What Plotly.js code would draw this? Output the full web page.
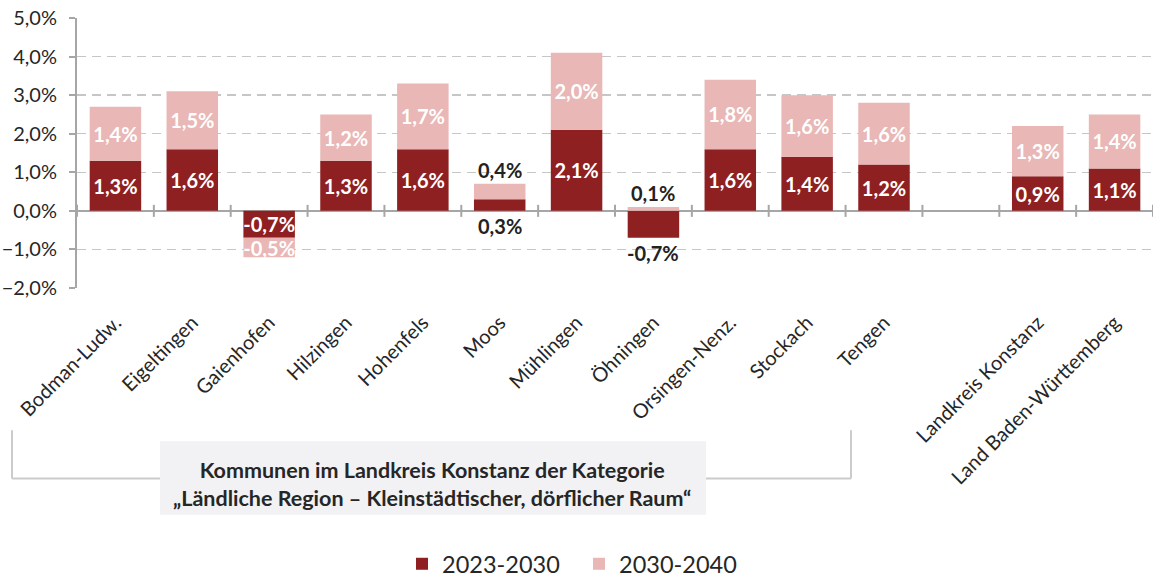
<!DOCTYPE html>
<html><head><meta charset="utf-8">
<script src="https://cdn.plot.ly/plotly-3.0.1.min.js"></script>
<style>html,body{margin:0;padding:0;background:#fff}#c{width:1153px;height:586px}</style>
</head><body><div id="c"></div>
<script>
const categories = ["Bodman-Ludw.","Eigeltingen","Gaienhofen","Hilzingen","Hohenfels","Moos","Mühlingen","Öhningen","Orsingen-Nenz.","Stockach","Tengen"," ","Landkreis Konstanz","Land Baden-Württemberg"];
const s2023_2030 = [1.3,1.6,-0.7,1.3,1.6,0.3,2.1,-0.7,1.6,1.4,1.2,null,0.9,1.1];
const s2030_2040 = [1.4,1.5,-0.5,1.2,1.7,0.4,2.0,0.1,1.8,1.6,1.6,null,1.3,1.4];
const outsideLabelCats = ["Moos","Öhningen"];
const seriesNames = ["2023-2030","2030-2040"];
const groupNote = "Kommunen im Landkreis Konstanz der Kategorie<br>„Ländliche Region – Kleinstädtischer, dörflicher Raum“";

const DARK = "#8f2022", LIGHT = "#e8b7b6";
const fmt = v => v == null ? "" : v.toFixed(1).replace(".", ",") + "%";
const FONT = "Lato, 'Open Sans', sans-serif";

function txt(arr){ return arr.map((v,i)=> outsideLabelCats.includes(categories[i]) ? "" : fmt(v)); }

const traces = [
  {type:"bar", name:seriesNames[0], x:categories, y:s2023_2030, marker:{color:DARK},
   text:txt(s2023_2030), textposition:"inside", insidetextanchor:"middle", constraintext:"none",
   textfont:{color:"#fff", size:20, family:FONT, weight:"bold"}, hoverinfo:"skip"},
  {type:"bar", name:seriesNames[1], x:categories, y:s2030_2040, marker:{color:LIGHT},
   text:txt(s2030_2040), textposition:"inside", insidetextanchor:"middle", constraintext:"none",
   textfont:{color:"#fff", size:20, family:FONT, weight:"bold"}, hoverinfo:"skip"}
];

const annotations = [];
outsideLabelCats.forEach(c=>{
  const i = categories.indexOf(c);
  const a = s2023_2030[i], b = s2030_2040[i];
  const posTop = (a>0? a:0) + (b>0? b:0);
  annotations.push({x:c, y:posTop, xref:"x", yref:"y", text:"<b>"+fmt(b)+"</b>", showarrow:false, yanchor:"bottom", yshift:0, font:{size:20, color:"#222", family:FONT}});
  const yb = a>0 ? 0 : a;
  annotations.push({x:c, y:yb, xref:"x", yref:"y", text:"<b>"+fmt(a)+"</b>", showarrow:false, yanchor:"top", yshift:-1, font:{size:20, color:"#222", family:FONT}});
});

const L=77, R=0, T=18, B=293, W=1153, H=586;
const pw=W-L-R, ph=H-T-B;
const px = x => (x-L)/pw;
const py = y => (H-B-y)/ph;

annotations.push({xref:"paper", yref:"paper", x:px(432), y:py(493), text:"<b>"+groupNote+"</b>", showarrow:false, align:"center", xanchor:"center", yanchor:"middle", font:{size:21.5, color:"#262626", family:FONT}});

const shapes = [];
for(let k=0;k<=categories.length;k++){
  shapes.push({type:"line", xref:"x", yref:"y", x0:k-0.5, x1:k-0.5, ysizemode:"pixel", yanchor:0, y0:-6, y1:6, line:{color:"#a6a6a6", width:2}});
}
const gray = {color:"#cbcbcb", width:2};
shapes.push({type:"line", xref:"paper", yref:"paper", x0:px(12), x1:px(12), y0:py(438), y1:py(487), line:gray});
shapes.push({type:"line", xref:"paper", yref:"paper", x0:px(12), x1:px(851), y0:py(487), y1:py(487), line:gray});
shapes.push({type:"line", xref:"paper", yref:"paper", x0:px(851), x1:px(851), y0:py(438), y1:py(487), line:gray});
shapes.push({type:"rect", xref:"paper", yref:"paper", x0:px(160), x1:px(706), y0:py(449), y1:py(524), fillcolor:"#f2f2f4", line:{width:0}});

const layout = {
  width:W, height:H, margin:{l:L, r:R, t:T, b:B},
  paper_bgcolor:"#fff", plot_bgcolor:"#fff",
  barmode:"relative", bargap:0.33,
  separators:",.",
  font:{family:FONT, color:"#262626"},
  showlegend:true,
  legend:{orientation:"h", x:px(402), xanchor:"left", y:py(575), yanchor:"middle", entrywidth:132, entrywidthmode:"pixels", itemwidth:30, font:{size:23.5, color:"#262626", family:FONT}, traceorder:"normal"},
  xaxis:{type:"category", categoryorder:"array", categoryarray:categories, tickangle:-45, ticks:"", showline:false, showgrid:false, zeroline:false, ticklabelstandoff:18, tickfont:{size:20, color:"#262626", family:FONT}, range:[-0.5, categories.length-0.5], automargin:false},
  yaxis:{range:[-2,5], dtick:1, tickformat:".1f", ticksuffix:"%", showline:true, linecolor:"#a6a6a6", linewidth:2, ticks:"outside", ticklen:6, tickwidth:2, tickcolor:"#a6a6a6", ticklabelstandoff:8,
    gridcolor:"#c6c6c6", gridwidth:1.5, griddash:"9px,6px", zeroline:true, zerolinecolor:"#a6a6a6", zerolinewidth:2, tickfont:{size:20, color:"#262626", family:FONT}, automargin:false},
  annotations, shapes
};

Plotly.newPlot("c", traces, layout, {displayModeBar:false, staticPlot:true});
</script></body></html>
